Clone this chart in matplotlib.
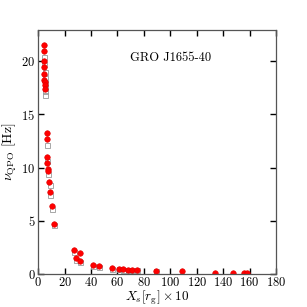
import numpy as np
import matplotlib
matplotlib.use('Agg')
import matplotlib.pyplot as plt

plt.rcParams['font.family'] = 'serif'
plt.rcParams['font.serif'] = ['cmr10', 'DejaVu Serif']
plt.rcParams['mathtext.fontset'] = 'cm'
plt.rcParams['axes.formatter.use_mathtext'] = True

# red filled circles (nu_QPO vs shock location)
red_x = [4.6, 4.6, 4.6, 4.7, 4.8, 4.8, 4.9, 4.9, 5.0,
         6.5, 6.6, 7.0, 7.0, 7.7, 7.8, 8.6, 9.1, 10.3, 12.3,
         27.2, 28.7, 31.8, 31.8, 41.4, 46.4, 55.7, 61.3, 64.5,
         67.8, 71.3, 74.9, 89.5, 108.9, 133.9, 147.8, 155.8, 158.3]
red_y = [21.5, 20.9, 20.0, 19.4, 18.8, 18.25, 18.0, 17.75, 17.4,
         13.2, 12.7, 11.0, 10.4, 9.85, 9.65, 8.65, 7.73, 6.4, 4.67,
         2.27, 1.5, 2.0, 1.25, 0.87, 0.78, 0.56, 0.5, 0.45,
         0.43, 0.4, 0.38, 0.3, 0.25, 0.15, 0.12, 0.1, 0.1]

# grey open squares
gray_x = [4.8, 4.8, 4.9, 4.9, 5.0, 5.0, 5.1, 5.1,
          6.8, 7.0, 7.4, 8.7, 9.3, 10.4, 12.3,
          27.0, 28.6, 31.9, 41.4, 46.4, 55.7, 61.3, 64.5,
          67.8, 71.3, 74.9, 89.5]
gray_y = [20.4, 19.7, 19.0, 18.4, 17.9, 17.5, 17.2, 16.85,
          12.1, 10.6, 9.4, 8.35, 7.4, 6.1, 4.6,
          2.1, 1.35, 1.1, 0.8, 0.7, 0.5, 0.45, 0.42,
          0.4, 0.37, 0.35, 0.27]

fig = plt.figure(figsize=(3.07, 3.07), dpi=100)
ax = fig.add_axes([0.124, 0.107, 0.775, 0.795])

ax.plot(gray_x, gray_y, 's', ms=3.6, mfc='none', mec='#999999', mew=0.6)
ax.plot(red_x, red_y, 'o', ms=4.0, mfc='red', mec='#dd0000', mew=0.4)

ax.set_xlim(0, 180)
ax.set_ylim(0, 22.9)
ax.set_xticks(np.arange(0, 181, 20))
ax.set_yticks([0, 5, 10, 15, 20])

for s in ax.spines.values():
    s.set_color('#555555')
    s.set_linewidth(0.9)
ax.tick_params(direction='in', top=True, right=True, length=4, width=1,
               labelsize=9)
ax.tick_params(axis='x', pad=1.5)
ax.tick_params(axis='y', pad=2)

ax.set_xlabel(r'$X_s[r_{\rm g}]\times10$', fontsize=9.5, labelpad=-0.5)
ax.set_ylabel(r'$\nu_{\rm QPO}$ [Hz]', fontsize=10, labelpad=2)
ax.text(0.555, 0.886, 'GRO J1655-40', transform=ax.transAxes,
        ha='center', va='center', fontsize=9)

fig.savefig('out.png', dpi=100)
